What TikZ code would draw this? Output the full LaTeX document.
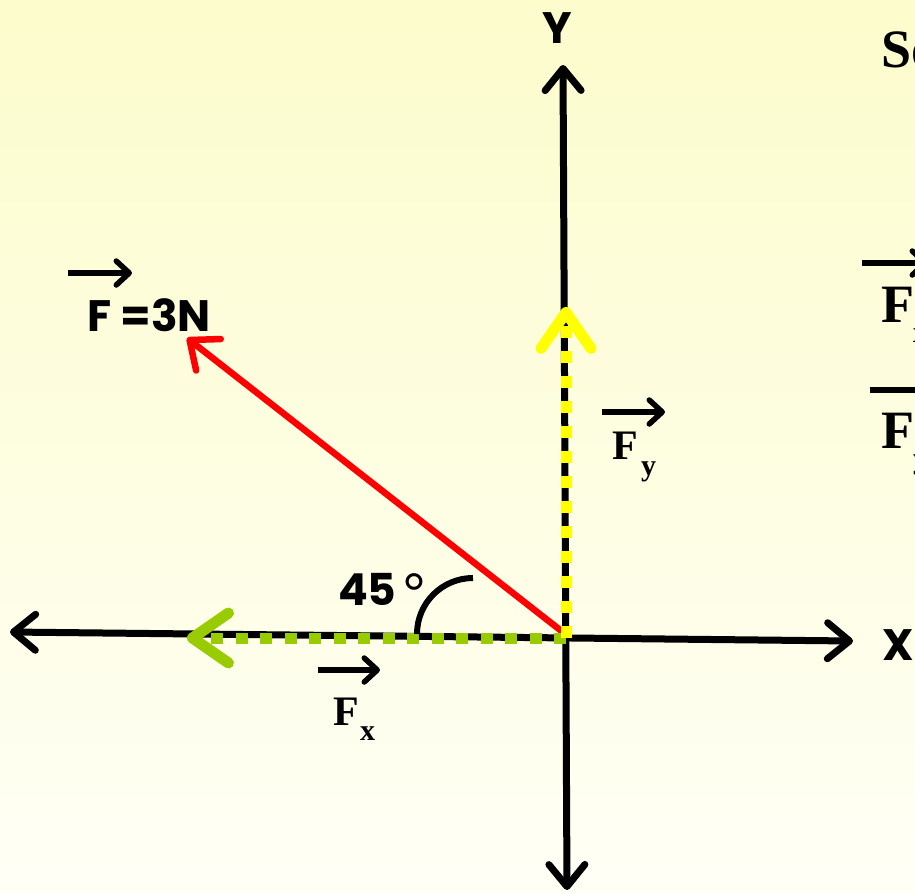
\documentclass[tikz,border=0pt]{standalone}
\usepackage{fontspec}
\newfontfamily\gothic{Poppins}
\newfontfamily\lsans{Liberation Sans}
\newfontfamily\tnr{Liberation Serif}
\usetikzlibrary{arrows.meta}
\definecolor{bgtop}{RGB}{252,252,204}
\definecolor{bgbot}{RGB}{255,255,246}
\definecolor{vgreen}{RGB}{153,204,0}
\definecolor{vyellow}{RGB}{255,255,0}
\definecolor{vred}{RGB}{255,0,0}
\begin{document}
\begin{tikzpicture}[x=1pt,y=-1pt,
  axis/.style={line width=7pt, draw=black,
    {Straight Barb[length=22pt,width=36pt,round]}-{Straight Barb[length=22pt,width=36pt,round]}},
  force/.style={line width=6.5pt, draw=vred, -{Straight Barb[length=24pt,width=40pt,round]}},
  compgreen/.style={line width=11pt, draw=vgreen, dash pattern=on 12pt off 12.5pt,
    -{Straight Barb[length=36pt,width=50pt,round]}},
  compyellow/.style={line width=11pt, draw=vyellow, dash pattern=on 12pt off 13pt,
    -{Straight Barb[length=36pt,width=50pt,round]}},
  labarrow/.style={line width=5.5pt, draw=black, -{Straight Barb[length=13pt,width=24pt,round]}},
  gothlab/.style={inner sep=0pt, font=\gothic\bfseries\fontsize{44}{48}\selectfont},
  deglab/.style={inner sep=0pt, font=\lsans\fontsize{60}{64}\selectfont},
  tnrF/.style={inner sep=0pt, font=\tnr\bfseries\fontsize{42}{46}\selectfont},
  tnrsub/.style={inner sep=0pt, font=\tnr\bfseries\fontsize{30}{34}\selectfont},
  tnrbig/.style={inner sep=0pt, font=\tnr\bfseries\fontsize{54}{58}\selectfont},
  tnrbigsub/.style={inner sep=0pt, font=\tnr\bfseries\fontsize{30}{34}\selectfont},
  anglearc/.style={line width=6pt, draw=black}
]
\useasboundingbox (0,0) rectangle (915,892);
\clip (0,0) rectangle (915,892);
\shade[top color=bgtop, bottom color=bgbot] (0,0) rectangle (915,892);

% coordinates
\coordinate (xl) at (10,632);
\coordinate (xr) at (853,641);
\coordinate (yt) at (563,65);
\coordinate (yb) at (567,890);
\coordinate (O) at (566,638);
\coordinate (Ored) at (564,633);
\coordinate (Ftip) at (187,338);
\coordinate (Fxtip) at (187,638);
\coordinate (Fytip) at (566,307);

% axes
\draw[axis] (xl) -- (xr);
\draw[axis] (yt) -- (yb);

% force and components
\draw[force] (Ored) -- (Ftip);
\draw[compgreen] (O) -- (Fxtip);
\draw[compyellow] (O) -- (Fytip);

% angle arc
\coordinate (arcstart) at (417,634);
\draw[anglearc] (arcstart) arc[start angle=180, end angle=270, radius=56];

% axis labels
\node[gothlab] (ylab) at (557,28) {Y};
\node[gothlab] (xlab) at (898,645) {X};

% F = 3N
\node[gothlab, anchor=base west] (Flab) at (87,331) {F =3N};
\coordinate (fa1) at (68,273);
\coordinate (fa2) at (132,273);
\draw[labarrow] (fa1) -- (fa2);

% angle label
\node[gothlab, anchor=base west] (anglab) at (338,605) {45};
\node[deglab, anchor=base west] (deglab) at (402,615) {°};

% Fx label
\node[tnrF, anchor=base west] (FxF) at (333,725) {F};
\node[tnrsub, anchor=base west] (FxS) at (360,740) {x};
\coordinate (fx1) at (318,670);
\coordinate (fx2) at (380,670);
\draw[labarrow] (fx1) -- (fx2);

% Fy label
\node[tnrF, anchor=base west] (FyF) at (612,459) {F};
\node[tnrsub, anchor=base west] (FyS) at (641,475) {y};
\coordinate (fy1) at (602,412);
\coordinate (fy2) at (665,412);
\draw[labarrow] (fy1) -- (fy2);

% right side (cut off at the edge)
\node[tnrbig, anchor=base west] (sol) at (881,67) {Solution:};
\node[tnrbig, anchor=base west] (R1F) at (881,322) {F};
\node[tnrbigsub, anchor=base west] (R1S) at (913,342) {x};
\coordinate (r1a) at (862,263);
\coordinate (r1b) at (928,263);
\draw[labarrow] (r1a) -- (r1b);
\node[tnrbig, anchor=base west] (R2F) at (881,448) {F};
\node[tnrbigsub, anchor=base west] (R2S) at (913,468) {y};
\coordinate (r2a) at (870,390);
\coordinate (r2b) at (936,390);
\draw[labarrow] (r2a) -- (r2b);
\end{tikzpicture}
\end{document}
